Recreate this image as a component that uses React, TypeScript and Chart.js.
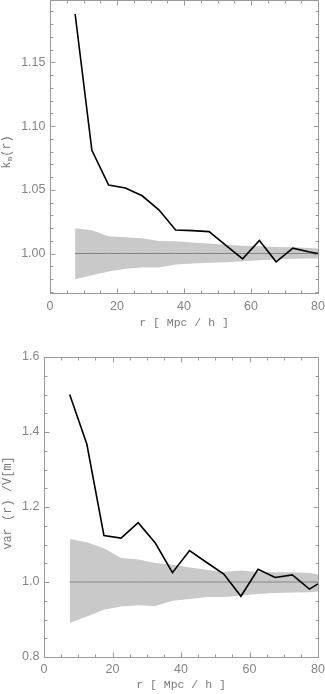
import React, { useEffect, useRef } from 'react';
import { Chart, registerables } from 'chart.js';

Chart.register(...registerables);

// ---- data ----
const R = [7.5, 12.5, 17.5, 22.5, 27.5, 32.5, 37.5, 42.5, 47.5, 52.5, 57.5, 62.5, 67.5, 72.5, 77.5, 80];

const K_LINE = [1.188, 1.081, 1.0537, 1.0515, 1.0453, 1.0343, 1.0185, 1.018, 1.0172, 1.0063, 0.9958, 1.0102, 0.9935, 1.0042, 1.0012, 1.0];
const K_UPPER = [1.0198, 1.0182, 1.0135, 1.0127, 1.012, 1.0099, 1.0096, 1.0086, 1.0078, 1.0068, 1.006, 1.0057, 1.0052, 1.005, 1.0044, 1.0039];
const K_LOWER = [0.9797, 0.983, 0.9859, 0.988, 0.989, 0.9891, 0.9914, 0.9921, 0.9927, 0.9932, 0.994, 0.9948, 0.9955, 0.9958, 0.9961, 0.9961];

const V_LINE = [1.5, 1.368, 1.124, 1.117, 1.158, 1.104, 1.025, 1.084, 1.052, 1.021, 0.962, 1.034, 1.012, 1.019, 0.981, 0.995];
const V_UPPER = [1.115, 1.106, 1.09, 1.064, 1.06, 1.051, 1.046, 1.039, 1.033, 1.027, 1.031, 1.027, 1.026, 1.026, 1.024, 1.02];
const V_LOWER = [0.891, 0.908, 0.926, 0.935, 0.938, 0.936, 0.95, 0.955, 0.96, 0.96, 0.964, 0.968, 0.971, 0.972, 0.973, 0.975];

const REF_VALUE = 1.0;

const X_TICKS = [0, 20, 40, 60, 80];
const X_MINOR = [5, 10, 15, 25, 30, 35, 45, 50, 55, 65, 70, 75];
const K_TICKS = [1.0, 1.05, 1.1, 1.15];
const K_MINOR = [0.97, 0.98, 0.99, 1.01, 1.02, 1.03, 1.04, 1.06, 1.07, 1.08, 1.09, 1.11, 1.12, 1.13, 1.14, 1.16, 1.17, 1.18, 1.19];
const V_TICKS = [0.8, 1.0, 1.2, 1.4, 1.6];
const V_MINOR = [0.85, 0.9, 0.95, 1.05, 1.1, 1.15, 1.25, 1.3, 1.35, 1.45, 1.5, 1.55];

const X_TITLE = 'r [ Mpc / h ]';

// ---- styles ----
const W = 325;
const AXIS_COLOR = '#9a9a9a';
const LABEL_COLOR = '#858585';
const TITLE_COLOR = '#7a7a7a';
const BAND_COLOR = '#c9c9c9';
const REF_COLOR = '#858585';
const TICK_FONT = { family: 'Liberation Sans', size: 12.5 };
const TITLE_FONT_FAMILY = 'Liberation Mono';

const boxPlugin = {
  id: 'idlBox',
  afterDatasetsDraw(chart: any, _args: any, opts: any) {
    const { ctx, chartArea: a, scales } = chart;
    const xs = scales.x;
    const ys = scales.y;
    const L = a.left + 0.5;
    const Rr = a.right + 0.5;
    const T = a.top + 0.5;
    const B = a.bottom + 0.5;
    ctx.save();
    ctx.strokeStyle = AXIS_COLOR;
    ctx.lineWidth = 1;
    ctx.beginPath();
    ctx.rect(L, T, Rr - L, B - T);
    const xt = (vals: number[], len: number) => {
      vals.forEach((v) => {
        const px = Math.round(xs.getPixelForValue(v)) + 0.5;
        ctx.moveTo(px, B);
        ctx.lineTo(px, B - len);
        ctx.moveTo(px, T);
        ctx.lineTo(px, T + len);
      });
    };
    const yt = (vals: number[], len: number) => {
      vals.forEach((v) => {
        const py = Math.round(ys.getPixelForValue(v)) + 0.5;
        ctx.moveTo(L, py);
        ctx.lineTo(L + len, py);
        ctx.moveTo(Rr, py);
        ctx.lineTo(Rr - len, py);
      });
    };
    xt(opts.xMajor, 5);
    xt(opts.xMinor, 3);
    yt(opts.yMajor, 5);
    yt(opts.yMinor, 3);
    ctx.stroke();
    ctx.restore();
  },
};

const yTitlePlugin = {
  id: 'yTitle',
  afterDraw(chart: any, _args: any, opts: any) {
    const { ctx } = chart;
    const parts: { text: string; size: number; shift: number }[] = opts.parts;
    ctx.save();
    ctx.translate(opts.x, opts.y);
    ctx.rotate(-Math.PI / 2);
    ctx.fillStyle = TITLE_COLOR;
    ctx.textBaseline = 'middle';
    ctx.textAlign = 'left';
    let total = 0;
    parts.forEach((p) => {
      ctx.font = `${p.size}px "${TITLE_FONT_FAMILY}"`;
      total += ctx.measureText(p.text).width;
    });
    let cx = -total / 2;
    parts.forEach((p) => {
      ctx.font = `${p.size}px "${TITLE_FONT_FAMILY}"`;
      ctx.fillText(p.text, cx, p.shift);
      cx += ctx.measureText(p.text).width;
    });
    ctx.restore();
  },
};

type PanelProps = {
  top: number;
  height: number;
  area: { left: number; right: number; top: number; bottom: number };
  line: number[];
  upper: number[];
  lower: number[];
  yMin: number;
  yMax: number;
  yTicks: number[];
  yMinor: number[];
  decimals: number;
  titleParts: { text: string; size: number; shift: number }[];
  titleX: number;
  titleY: number;
  xLabelPad: number;
  xTitlePad: number;
};

function Panel(p: PanelProps) {
  const ref = useRef<HTMLCanvasElement>(null);
  useEffect(() => {
    const canvas = ref.current;
    if (!canvas) return;
    const pts = (vals: number[]) => R.map((x, i) => ({ x, y: vals[i] }));
    const chart = new Chart(canvas, {
      type: 'line',
      data: {
        datasets: [
          { data: pts(p.upper), borderWidth: 0, borderColor: 'rgba(0,0,0,0)', backgroundColor: BAND_COLOR, fill: '+1', pointRadius: 0, order: 3 } as any,
          { data: pts(p.lower), borderWidth: 0, borderColor: 'rgba(0,0,0,0)', fill: false, pointRadius: 0, order: 4 } as any,
          { data: R.map((x) => ({ x, y: REF_VALUE })), borderColor: REF_COLOR, borderWidth: 1, pointRadius: 0, fill: false, order: 1 } as any,
          { data: pts(p.line), borderColor: '#000000', borderWidth: 1.6, pointRadius: 0, fill: false, tension: 0, order: 0 } as any,
        ],
      },
      options: {
        animation: false,
        responsive: false,
        events: [],
        layout: {
          padding: { left: 0, top: p.area.top, right: W - p.area.right, bottom: 0 },
          autoPadding: false,
        } as any,
        plugins: {
          legend: { display: false },
          tooltip: { enabled: false },
          idlBox: { xMajor: X_TICKS, xMinor: X_MINOR, yMajor: p.yTicks, yMinor: p.yMinor },
          yTitle: { parts: p.titleParts, x: p.titleX, y: p.titleY },
        } as any,
        scales: {
          x: {
            type: 'linear',
            min: 0,
            max: 80,
            grid: { display: false, drawTicks: false },
            border: { display: false },
            afterBuildTicks: (s: any) => {
              s.ticks = X_TICKS.map((v) => ({ value: v }));
            },
            ticks: {
              padding: p.xLabelPad,
              font: TICK_FONT,
              color: LABEL_COLOR,
              maxRotation: 0,
              autoSkip: false,
              callback: (v: any) => String(v),
            },
            title: {
              display: true,
              text: X_TITLE,
              color: TITLE_COLOR,
              font: { family: TITLE_FONT_FAMILY, size: 11.5 },
              padding: { top: 0, bottom: p.xTitlePad },
            },
            afterFit: (s: any) => {
              s.height = p.height - p.area.bottom;
              s.paddingLeft = 0;
              s.paddingRight = 0;
            },
          },
          y: {
            type: 'linear',
            min: p.yMin,
            max: p.yMax,
            grid: { display: false, drawTicks: false },
            border: { display: false },
            afterBuildTicks: (s: any) => {
              s.ticks = p.yTicks.map((v) => ({ value: v }));
            },
            ticks: {
              padding: 4.5,
              font: TICK_FONT,
              color: LABEL_COLOR,
              autoSkip: false,
              callback: (v: any) => Number(v).toFixed(p.decimals),
            },
            afterFit: (s: any) => {
              s.width = p.area.left;
              s.paddingTop = 0;
              s.paddingBottom = 0;
            },
          },
        },
      } as any,
      plugins: [boxPlugin, yTitlePlugin],
    });
    return () => chart.destroy();
  }, []);
  return (
    <canvas
      ref={ref}
      width={W}
      height={p.height}
      style={{ position: 'absolute', left: 0, top: p.top, width: W, height: p.height }}
    />
  );
}

export default function App() {
  return (
    <div style={{ position: 'absolute', left: 0, top: 0, width: W, height: 694, background: '#fff' }}>
      <Panel
        top={0}
        height={340}
        area={{ left: 50, right: 318, top: 0, bottom: 293 }}
        line={K_LINE}
        upper={K_UPPER}
        lower={K_LOWER}
        yMin={0.969}
        yMax={1.199}
        yTicks={K_TICKS}
        yMinor={K_MINOR}
        decimals={2}
        titleParts={[
          { text: 'k', size: 12, shift: 0 },
          { text: 'm', size: 8, shift: 3 },
          { text: '(r)', size: 12, shift: 0 },
        ]}
        titleX={7}
        titleY={152}
        xLabelPad={6}
        xTitlePad={10.4}
      />
      <Panel
        top={340}
        height={354}
        area={{ left: 44, right: 318, top: 17, bottom: 317 }}
        line={V_LINE}
        upper={V_UPPER}
        lower={V_LOWER}
        yMin={0.8}
        yMax={1.6}
        yTicks={V_TICKS}
        yMinor={V_MINOR}
        decimals={1}
        titleParts={[{ text: 'var (r) /V[m]', size: 12, shift: 0 }]}
        titleX={8}
        titleY={163}
        xLabelPad={5.5}
        xTitlePad={2.1}
      />
    </div>
  );
}
